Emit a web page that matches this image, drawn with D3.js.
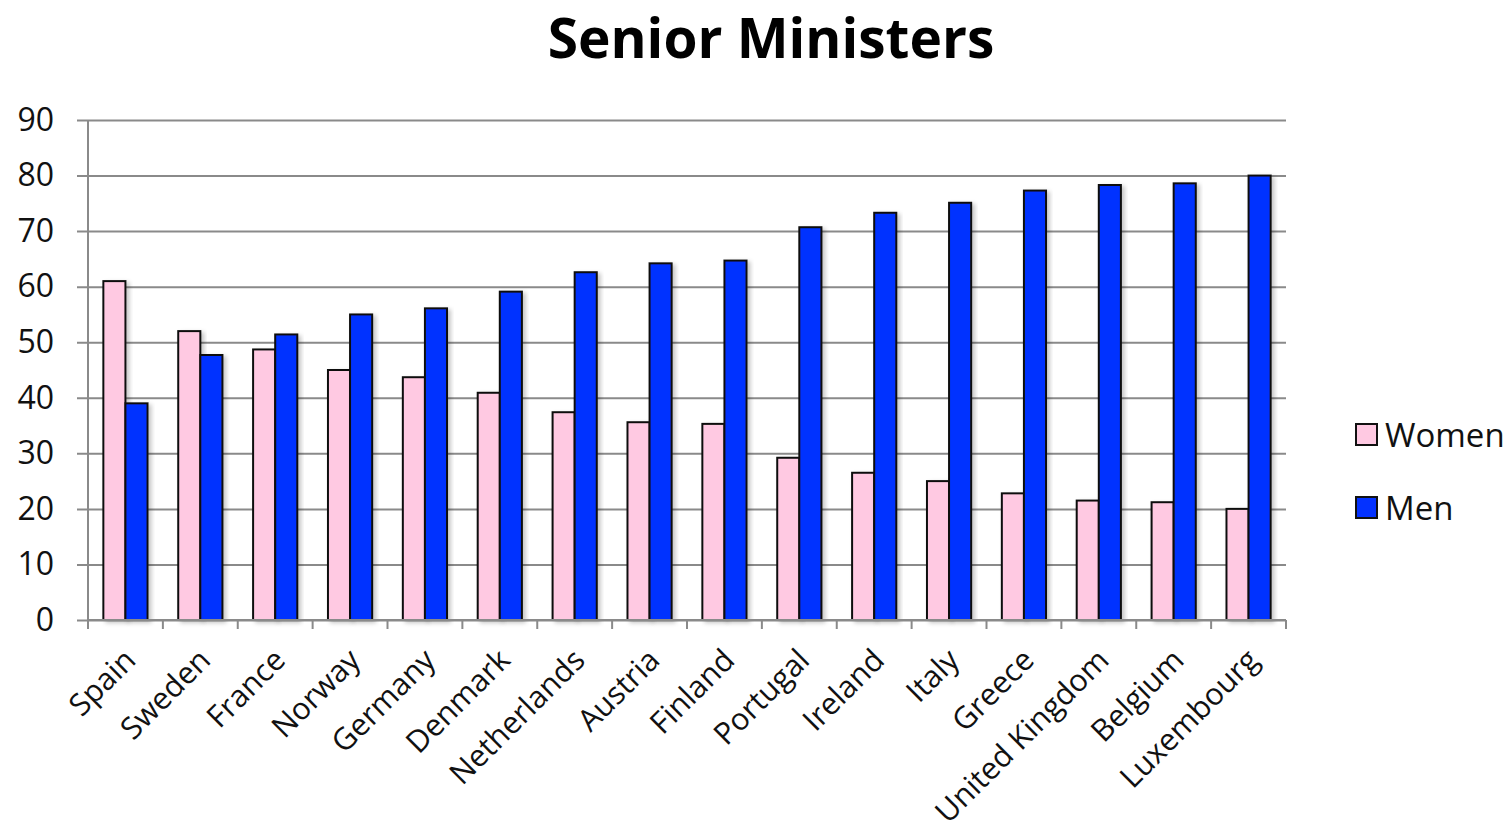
<!DOCTYPE html>
<html>
<head>
<meta charset="utf-8">
<script src="https://cdn.jsdelivr.net/npm/d3@7"></script>
<style>
  html, body { margin: 0; padding: 0; background: #fff; }
  svg { display: block; font-family: "Open Sans", sans-serif; }
</style>
</head>
<body>
<svg id="chart" width="1512" height="833"></svg>
<script>
// Share of senior ministers by sex, per country
const countries = ["Spain", "Sweden", "France", "Norway", "Germany", "Denmark", "Netherlands",
  "Austria", "Finland", "Portugal", "Ireland", "Italy", "Greece", "United Kingdom", "Belgium", "Luxembourg"];
const women = [61, 52, 48.7, 45, 43.7, 40.9, 37.4, 35.6, 35.3, 29.2, 26.5, 25, 22.8, 21.5, 21.2, 20];
const men   = [39, 47.7, 51.4, 55, 56.1, 59.1, 62.6, 64.2, 64.7, 70.7, 73.3, 75.1, 77.3, 78.3, 78.6, 80];
const seriesNames = ["Women", "Men"];
const seriesColors = ["#ffc9e2", "#0432ff"];
const yTicks = [0, 10, 20, 30, 40, 50, 60, 70, 80, 90];

const svg = d3.select("#chart");
const plot = { left: 88, right: 1286, top: 120, bottom: 620 };

const y = d3.scaleLinear().domain([0, 90]).range([plot.bottom, plot.top]);
const x0 = d3.scaleBand().domain(countries).range([plot.left, plot.right])
  .paddingInner(0.41).paddingOuter(0.205);
const x1 = d3.scaleBand().domain(seriesNames).range([0, x0.bandwidth()]);

// subtle drop shadow under bars
const defs = svg.append("defs");
const f = defs.append("filter").attr("id", "shadow").attr("x", "-20%").attr("y", "-5%")
  .attr("width", "150%").attr("height", "115%");
f.append("feDropShadow").attr("dx", 3).attr("dy", 2).attr("stdDeviation", 2)
  .attr("flood-color", "#000").attr("flood-opacity", 0.22);

// Title
svg.append("text").attr("x", 771).attr("y", 58).attr("text-anchor", "middle")
  .attr("font-size", 55).attr("font-weight", "bold").attr("fill", "#000")
  .text("Senior Ministers");

// Horizontal gridlines with left tick stubs
const yAxis = d3.axisLeft(y).tickValues(yTicks).tickSize(-(plot.right - plot.left)).tickPadding(34)
  .tickSizeOuter(0);
const gy = svg.append("g").attr("transform", `translate(${plot.left},0)`).call(yAxis);
gy.select(".domain").remove();
gy.selectAll(".tick line").attr("x1", -11).attr("stroke", "#8a8a8a").attr("stroke-width", 2);
gy.selectAll(".tick text").attr("font-size", 32).attr("fill", "#111")
  .attr("font-family", "'Open Sans', sans-serif");

// Vertical axis line
svg.append("line").attr("x1", plot.left).attr("x2", plot.left)
  .attr("y1", y(90)).attr("y2", plot.bottom + 8)
  .attr("stroke", "#8a8a8a").attr("stroke-width", 2);

// Bars
const groups = svg.append("g").selectAll("g").data(countries).join("g")
  .attr("transform", d => `translate(${x0(d)},0)`);
groups.selectAll("rect")
  .data((d, i) => [{ s: "Women", v: women[i] }, { s: "Men", v: men[i] }])
  .join("rect")
  .attr("x", d => x1(d.s))
  .attr("y", d => y(d.v))
  .attr("width", x1.bandwidth())
  .attr("height", d => y(0) - y(d.v))
  .attr("fill", d => seriesColors[seriesNames.indexOf(d.s)])
  .attr("stroke", "#111")
  .attr("stroke-width", 2)
  .attr("filter", "url(#shadow)");

// Category axis: ticks at band boundaries, rotated labels
const boundaries = countries.map(c => x0(c) + x0.bandwidth() / 2 - x0.step() / 2);
boundaries.push(plot.right);
const gx = svg.append("g");
gx.append("line").attr("x1", plot.left).attr("x2", plot.right)
  .attr("y1", plot.bottom).attr("y2", plot.bottom)
  .attr("stroke", "#8a8a8a").attr("stroke-width", 2);
gx.selectAll("line.tk").data(boundaries).join("line").attr("class", "tk")
  .attr("x1", d => d).attr("x2", d => d)
  .attr("y1", plot.bottom).attr("y2", plot.bottom + 9)
  .attr("stroke", "#8a8a8a").attr("stroke-width", 2);
gx.selectAll("text").data(countries).join("text")
  .attr("transform", d => `translate(${x0(d) + x0.bandwidth() / 2 + 12},${plot.bottom + 42}) rotate(-45)`)
  .attr("text-anchor", "end")
  .attr("font-size", 30.5)
  .attr("fill", "#111")
  .text(d => d);

// Legend
const legend = svg.append("g").attr("transform", "translate(1356,424)");
seriesNames.forEach((name, i) => {
  const g = legend.append("g").attr("transform", `translate(0,${i * 73})`);
  g.append("rect").attr("width", 21).attr("height", 21)
    .attr("fill", seriesColors[i]).attr("stroke", "#111").attr("stroke-width", 2);
  g.append("text").attr("x", 29).attr("y", 23).attr("font-size", 33).attr("fill", "#111").text(name);
});
</script>
</body>
</html>
